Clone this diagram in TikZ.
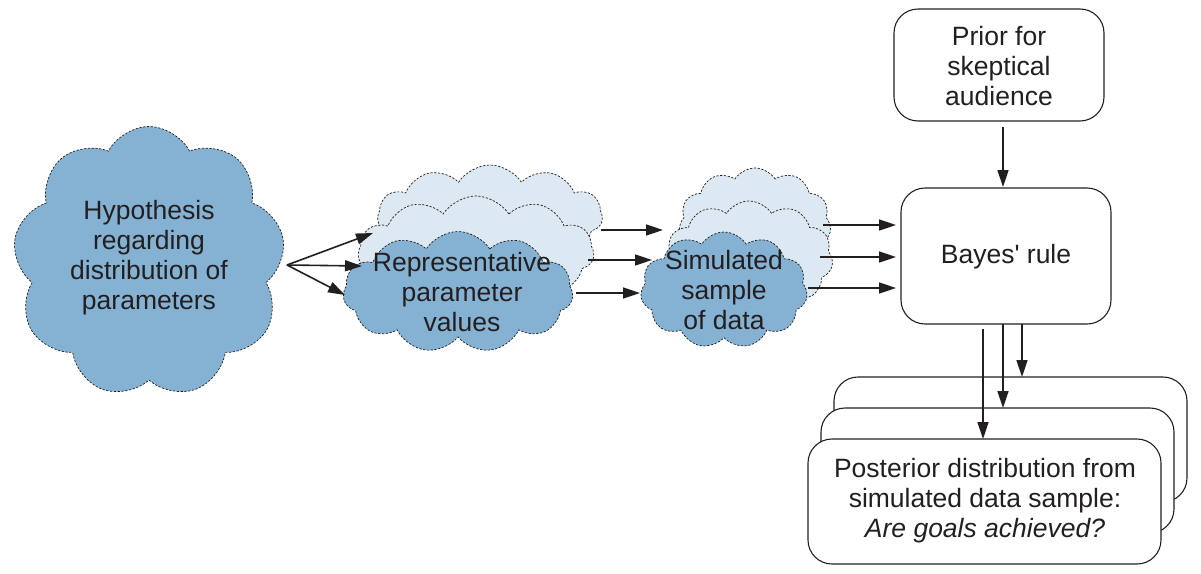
\documentclass[tikz,border=0pt]{standalone}
\usepackage{fontspec}
\setmainfont{Liberation Sans}[Ligatures=TeXOff]
\usetikzlibrary{shapes.symbols,arrows.meta}
\definecolor{cloudfront}{RGB}{133,178,211}
\definecolor{cloudback}{RGB}{220,232,242}
\definecolor{ink}{RGB}{35,31,32}
\begin{document}
\begin{tikzpicture}[x=1pt,y=-1pt,
  every node/.style={text=ink},
  txt/.style={align=center,font=\fontsize{26.5}{30}\selectfont,inner sep=0pt},
  cloudbase/.style={cloud,cloud puffs=11,cloud puff arc=115,cloud ignores aspect,
    draw=ink,dash pattern=on 2.2pt off 1.6pt,line width=0.7pt,inner sep=0pt},
  cfront/.style={cloudbase,fill=cloudfront},
  cback/.style={cloudbase,fill=cloudback},
  rbox/.style={draw=ink,line width=1.1pt,rounded corners=24pt,fill=white,inner sep=0pt},
  arr/.style={draw=ink,line width=1.6pt,-{Triangle[length=17pt,width=11pt]}}
]
\useasboundingbox (0,0) rectangle (1201,573);

% hypothesis cloud
\node[cfront,cloud puffs=9,cloud puff arc=125,minimum width=272pt,minimum height=271pt] (hyp) at (149,262) {};
\node[txt] (hyptxt) at (149,258) {Hypothesis\\regarding\\distribution of\\parameters};

% parameter clouds
\node[cback,minimum width=225pt,minimum height=102pt] (pb) at (490,216) {};
\node[cback,minimum width=236pt,minimum height=112pt] (pm) at (476,252) {};
\node[cfront,minimum width=230pt,minimum height=121pt] (pf) at (458,292) {};
\node[txt] (pftxt) at (462,292) {Representative\\parameter\\values};

% simulated clouds
\node[cback,minimum width=152pt,minimum height=112pt] (sb) at (755,224) {};
\node[cback,minimum width=168pt,minimum height=114pt] (sm) at (749,258) {};
\node[cfront,minimum width=167pt,minimum height=116pt] (sf) at (724,290) {};
\node[txt] (sftxt) at (724,290) {Simulated\\sample\\of data};

% boxes
\node[rbox,minimum width=210pt,minimum height=112pt] (prior) at (999,65) {};
\node[txt] (priortxt) at (999,66) {Prior for\\skeptical\\audience};
\node[rbox,minimum width=210pt,minimum height=136pt] (bayes) at (1006,256) {};
\node[txt] (bayestxt) at (1006,257) {Bayes' rule};

\node[rbox,minimum width=353pt,minimum height=125pt] (postb) at (1010.5,439.5) {};
\node[rbox,minimum width=353pt,minimum height=125pt] (postm) at (997.5,470.5) {};
\node[rbox,minimum width=353pt,minimum height=125pt] (postf) at (984.5,501.5) {};
\node[txt] (posttxt) at (985,501) {Posterior distribution from\\simulated data sample:\\\textit{Are goals achieved?}};

% coordinates for connector ends
\coordinate (hypout) at (287,265);
\coordinate (pin1) at (373,233);
\coordinate (pin2) at (362,266);
\coordinate (pin3) at (345,295);
\coordinate (pout1) at (601,230);
\coordinate (pout2) at (588,260);
\coordinate (pout3) at (576,293);
\coordinate (sin1) at (663,230);
\coordinate (sin2) at (652,260);
\coordinate (sin3) at (640,293);
\coordinate (sout1) at (823,225);
\coordinate (sout2) at (820,257);
\coordinate (sout3) at (808,288);
\coordinate (bin1) at (896,225);
\coordinate (bin2) at (896,257);
\coordinate (bin3) at (896,288);
\coordinate (priorout) at (1003,127);
\coordinate (bayesin) at (1003,187);
\coordinate (bout1) at (983,329);
\coordinate (bout2) at (1003,324);
\coordinate (bout3) at (1022,324);
\coordinate (postin1) at (983,439);
\coordinate (postin2) at (1003,408);
\coordinate (postin3) at (1022,377);

\draw[arr] (hypout) -- (pin1);
\draw[arr] (hypout) -- (pin2);
\draw[arr] (hypout) -- (pin3);
\draw[arr] (pout1) -- (sin1);
\draw[arr] (pout2) -- (sin2);
\draw[arr] (pout3) -- (sin3);
\draw[arr] (sout1) -- (bin1);
\draw[arr] (sout2) -- (bin2);
\draw[arr] (sout3) -- (bin3);
\draw[arr] (priorout) -- (bayesin);
\draw[arr] (bout1) -- (postin1);
\draw[arr] (bout2) -- (postin2);
\draw[arr] (bout3) -- (postin3);
\end{tikzpicture}
\end{document}
